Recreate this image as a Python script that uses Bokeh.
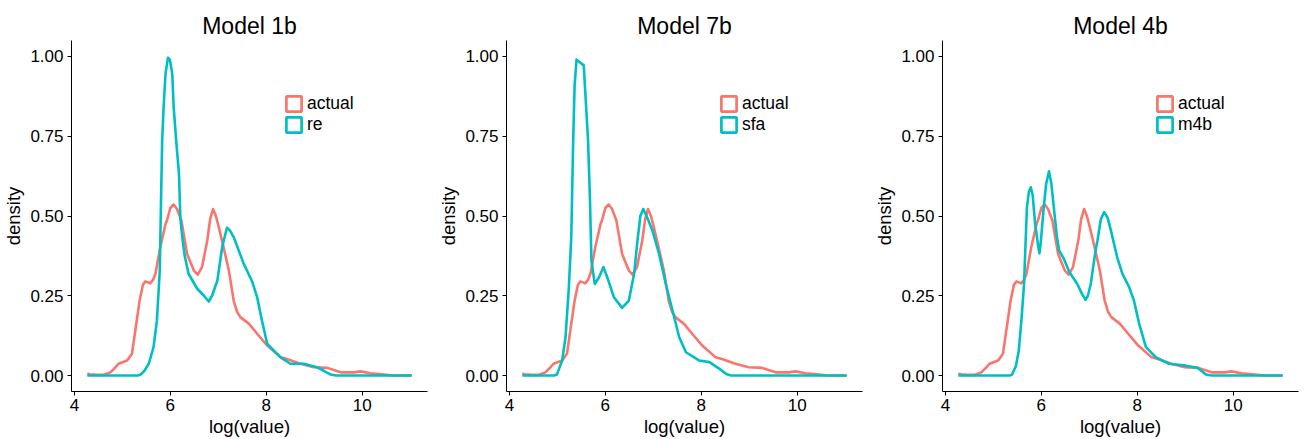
from bokeh.plotting import figure
from bokeh.layouts import row
from bokeh.models import Range1d, FixedTicker, Legend, LegendItem
from bokeh.embed import file_html
from bokeh.resources import INLINE

# ---------------- data ----------------
titles = ["Model 1b", "Model 7b", "Model 4b"]
model_names = ["re", "sfa", "m4b"]

actual_x = [4.27, 4.32, 4.45, 4.60, 4.75, 4.85, 4.92, 5.10, 5.20, 5.27, 5.36, 5.43, 5.48,
            5.53, 5.58, 5.64, 5.69, 5.79, 5.90, 5.93, 6.00, 6.07, 6.14, 6.23, 6.35, 6.49,
            6.57, 6.66, 6.77, 6.83, 6.89, 6.95, 7.01, 7.11, 7.22, 7.32, 7.39, 7.46, 7.64,
            7.81, 8.02, 8.30, 8.43, 8.71, 8.99, 9.27, 9.55, 9.83, 9.96, 10.17, 10.45,
            10.65, 11.03]
actual_y = [0.006, 0.004, 0.002, 0.002, 0.010, 0.025, 0.037, 0.047, 0.068, 0.141, 0.235,
            0.285, 0.295, 0.292, 0.289, 0.300, 0.319, 0.402, 0.475, 0.486, 0.525, 0.536,
            0.522, 0.486, 0.381, 0.329, 0.316, 0.340, 0.423, 0.490, 0.522, 0.500, 0.465,
            0.402, 0.329, 0.235, 0.200, 0.183, 0.162, 0.131, 0.094, 0.057, 0.052, 0.037,
            0.026, 0.024, 0.010, 0.010, 0.013, 0.007, 0.003, 0.000, 0.000]

re_x = [4.27, 5.32, 5.38, 5.46, 5.55, 5.65, 5.72, 5.78, 5.80, 5.83, 5.86, 5.90, 5.95, 5.99,
        6.04, 6.07, 6.12, 6.18, 6.21, 6.26, 6.30, 6.38, 6.56, 6.70, 6.80, 6.87, 6.98, 7.08,
        7.18, 7.24, 7.32, 7.53, 7.71, 7.81, 7.91, 8.02, 8.30, 8.50, 8.78, 9.06, 9.20, 9.34,
        9.45, 11.03]
re_y = [0.000, 0.000, 0.003, 0.015, 0.037, 0.089, 0.172, 0.330, 0.500, 0.737, 0.841, 0.946,
        0.996, 0.990, 0.946, 0.841, 0.740, 0.632, 0.490, 0.420, 0.375, 0.319, 0.272, 0.250,
        0.232, 0.250, 0.298, 0.402, 0.463, 0.455, 0.434, 0.350, 0.293, 0.245, 0.172, 0.099,
        0.057, 0.037, 0.037, 0.026, 0.015, 0.003, 0.000, 0.000]

sfa_x = [4.27, 4.93, 4.99, 5.10, 5.17, 5.24, 5.29, 5.33, 5.36, 5.40, 5.55, 5.60, 5.64, 5.68,
         5.69, 5.71, 5.78, 5.87, 5.96, 6.04, 6.18, 6.35, 6.49, 6.60, 6.67, 6.73, 6.79, 6.86,
         6.98, 7.12, 7.26, 7.40, 7.54, 7.68, 7.96, 8.17, 8.38, 8.52, 8.62, 11.03]
sfa_y = [0.000, 0.000, 0.003, 0.047, 0.120, 0.277, 0.434, 0.737, 0.910, 0.990, 0.972, 0.841,
         0.737, 0.550, 0.486, 0.360, 0.287, 0.308, 0.340, 0.308, 0.245, 0.212, 0.235, 0.319,
         0.423, 0.500, 0.522, 0.500, 0.455, 0.381, 0.287, 0.204, 0.120, 0.073, 0.047, 0.042,
         0.021, 0.005, 0.000, 0.000]

m4b_x = [4.27, 5.34, 5.39, 5.47, 5.53, 5.59, 5.64, 5.66, 5.68, 5.70, 5.74, 5.78, 5.82, 5.87,
         5.93, 5.96, 5.99, 6.05, 6.10, 6.16, 6.21, 6.26, 6.32, 6.37, 6.47, 6.58, 6.75, 6.85,
         6.92, 6.97, 7.03, 7.13, 7.17, 7.24, 7.31, 7.38, 7.45, 7.58, 7.69, 7.83, 7.93, 8.04,
         8.18, 8.39, 8.66, 9.01, 9.26, 9.36, 9.43, 9.55, 11.03]
m4b_y = [0.000, 0.000, 0.003, 0.030, 0.078, 0.183, 0.287, 0.371, 0.450, 0.528, 0.575, 0.590,
         0.565, 0.476, 0.410, 0.383, 0.420, 0.528, 0.600, 0.640, 0.600, 0.528, 0.440, 0.392,
         0.366, 0.325, 0.287, 0.255, 0.237, 0.250, 0.287, 0.392, 0.423, 0.490, 0.512, 0.495,
         0.455, 0.371, 0.319, 0.277, 0.235, 0.162, 0.089, 0.057, 0.037, 0.031, 0.024, 0.012,
         0.003, 0.000, 0.000]

model_x = [re_x, sfa_x, m4b_x]
model_y = [re_y, sfa_y, m4b_y]

x_ticks = [4, 6, 8, 10]
y_ticks = [0.0, 0.25, 0.5, 0.75, 1.0]
y_tick_labels = ["0.00", "0.25", "0.50", "0.75", "1.00"]

# ---------------- styling ----------------
RED = "#F8766D"
TEAL = "#00BFC4"
FONT = "Liberation Sans"
LW = 2.6
NAN = float("nan")

left_borders = [71, 71, 72]
figs = []
for i in range(3):
    p = figure(frame_width=356, frame_height=351, output_backend="svg",
               toolbar_location=None, min_border_left=left_borders[i], min_border_right=8,
               min_border_top=40, min_border_bottom=48,
               x_range=Range1d(3.94, 11.36), y_range=Range1d(-0.05, 1.05))
    p.outline_line_color = None
    p.grid.visible = False
    p.background_fill_color = "white"
    p.border_fill_color = "white"

    p.title.text = titles[i]
    p.title.text_font = FONT
    p.title.text_font_size = "23px"
    p.title.text_font_style = "normal"
    p.title.text_color = "black"
    p.title.align = "center"
    p.title.standoff = 4

    for ax in (p.xaxis[0], p.yaxis[0]):
        ax.axis_line_color = "black"
        ax.axis_line_width = 1
        ax.major_tick_line_color = "black"
        ax.major_tick_in = 0
        ax.major_tick_out = 4
        ax.minor_tick_line_color = None
        ax.major_label_text_font = FONT
        ax.major_label_text_font_size = "17px"
        ax.major_label_text_color = "black"
        ax.axis_label_text_font = FONT
        ax.axis_label_text_font_size = "18.5px"
        ax.axis_label_text_font_style = "normal"
        ax.axis_label_text_color = "black"

    p.xaxis.ticker = FixedTicker(ticks=x_ticks)
    p.yaxis.ticker = FixedTicker(ticks=y_ticks)
    p.yaxis.major_label_overrides = {t: l for t, l in zip(y_ticks, y_tick_labels)}
    p.xaxis.axis_label = "log(value)"
    p.yaxis.axis_label = "density"
    p.xaxis.major_label_standoff = 3
    p.yaxis.major_label_standoff = 4
    p.xaxis.axis_label_standoff = 2
    p.yaxis.axis_label_standoff = 3

    p.line(actual_x, actual_y, line_color=RED, line_width=LW, line_join="round")
    p.line(model_x[i], model_y[i], line_color=TEAL, line_width=LW, line_join="round")

    # legend keys: outlined squares (renderers with no visible data)
    k1 = p.quad(left=[NAN], right=[NAN], top=[NAN], bottom=[NAN], fill_color=None,
                line_color=RED, line_width=2.7)
    k2 = p.quad(left=[NAN], right=[NAN], top=[NAN], bottom=[NAN], fill_color=None,
                line_color=TEAL, line_width=2.7)
    legend = Legend(items=[LegendItem(label="actual", renderers=[k1], index=0),
                           LegendItem(label=model_names[i], renderers=[k2], index=0)],
                    location=(213, 256), glyph_width=19, glyph_height=19, spacing=0,
                    padding=0, margin=0, label_standoff=4, border_line_color=None,
                    background_fill_alpha=0, label_text_font=FONT,
                    label_text_font_size="17.5px", label_text_color="black",
                    label_height=19)
    p.add_layout(legend)
    figs.append(p)

layout = row(*figs)
open("out.html", "w").write(file_html(layout, INLINE))
